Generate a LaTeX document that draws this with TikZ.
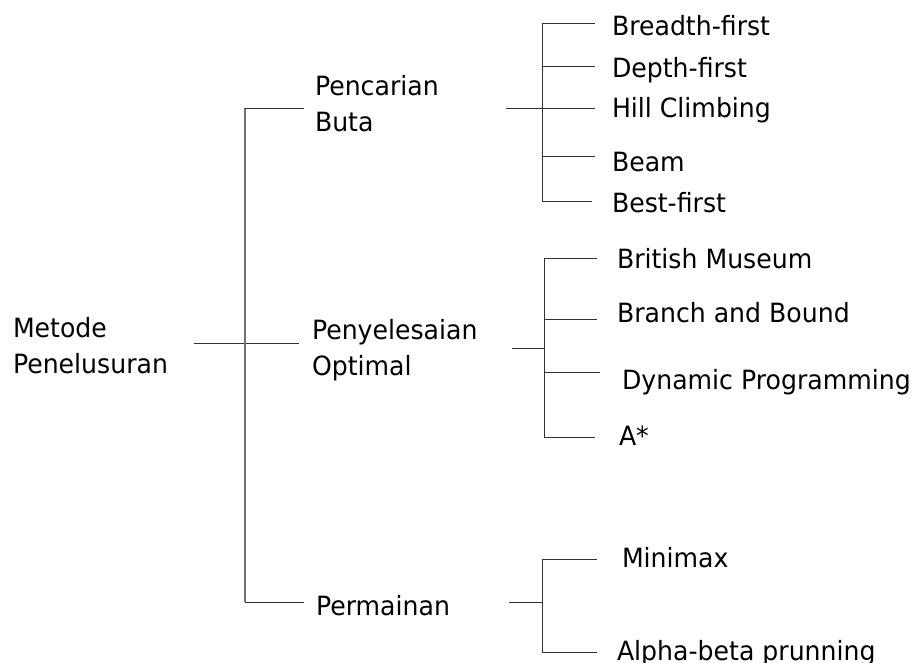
\documentclass[tikz,border=0pt]{standalone}
\usepackage{fontspec}
\setmainfont{DejaVu Sans}[FakeStretch=0.95]
\newcommand{\twoline}[2]{\vtop{\hbox{#1}\hbox{#2}}}
\begin{document}
\begin{tikzpicture}[x=1pt,y=-1pt,
  lbl/.style={anchor=base west,inner sep=0pt,outer sep=0pt,
    font=\fontsize{26.5}{36}\selectfont},
  twig/.style={draw=black!80,line width=1pt},
  stem/.style={draw=black!55,line width=1.3pt}]
\useasboundingbox (0,0) rectangle (917,662);

% root
\node[lbl] (root) at (13,337) {\twoline{Metode}{Penelusuran}};

% level 1
\node[lbl] (buta) at (315,95) {\twoline{Pencarian}{Buta}};
\node[lbl] (opt) at (312,339) {\twoline{Penyelesaian}{Optimal}};
\node[lbl] (game) at (316,615) {Permainan};

% level 2: blind search
\node[lbl] (bf) at (612,35) {Breadth-first};
\node[lbl] (df) at (612,77) {Depth-first};
\node[lbl] (hc) at (612,117) {Hill Climbing};
\node[lbl] (beam) at (612,171) {Beam};
\node[lbl] (best) at (612,212) {Best-first};

% level 2: optimal
\node[lbl] (bm) at (617,268) {British Museum};
\node[lbl] (bb) at (617,322) {Branch and Bound};
\node[lbl] (dp) at (622,389) {Dynamic Programming};
\node[lbl] (astar) at (619,445) {A*};

% level 2: games
\node[lbl] (mm) at (622,567) {Minimax};
\node[lbl] (ab) at (617,660) {Alpha-beta prunning};

% joints
\coordinate (j0) at (245,343);
\coordinate (j1) at (542,108);
\coordinate (j2) at (544,348);
\coordinate (j3) at (542,602);

% root bracket
\draw[twig] (194,343) -- (299,343);
\draw[stem] (245,108) -- (245,602);
\draw[twig] (245,108) -- (304,108);
\draw[twig] (245,602) -- (304,602);

% blind search bracket
\draw[twig] (506,108) -- (595,108);
\draw[twig] (542,23) -- (542,201);
\draw[twig] (542,23) -- (595,23);
\draw[twig] (542,66) -- (595,66);
\draw[twig] (542,156) -- (595,156);
\draw[twig] (542,201) -- (592,201);

% optimal bracket
\draw[twig] (512,348) -- (544,348);
\draw[twig] (544,258) -- (544,437);
\draw[twig] (544,258) -- (597,258);
\draw[twig] (544,319) -- (597,319);
\draw[twig] (544,372) -- (600,372);
\draw[twig] (544,437) -- (595,437);

% games bracket
\draw[twig] (509,602) -- (542,602);
\draw[twig] (542,559) -- (542,652);
\draw[twig] (542,559) -- (597,559);
\draw[twig] (542,652) -- (597,652);
\end{tikzpicture}
\end{document}
